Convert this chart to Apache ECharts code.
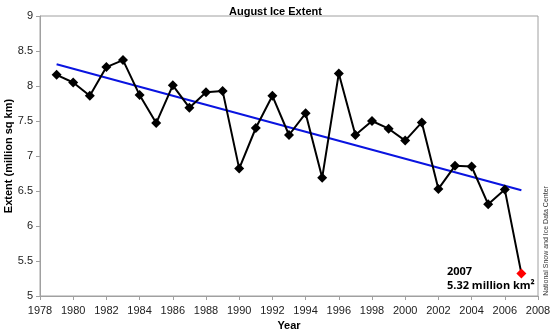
<!DOCTYPE html>
<html><head><meta charset="utf-8">
<script src="https://cdn.jsdelivr.net/npm/echarts@6/dist/echarts.min.js"></script>
<style>html,body{margin:0;padding:0;background:#fff}#c{width:550px;height:330px}</style>
</head><body><div id="c"></div>
<script>
var years = [1979,1980,1981,1982,1983,1984,1985,1986,1987,1988,1989,1990,1991,1992,1993,1994,1995,1996,1997,1998,1999,2000,2001,2002,2003,2004,2005,2006,2007];
var extent = [8.16,8.05,7.86,8.27,8.37,7.87,7.47,8.01,7.69,7.91,7.93,6.82,7.40,7.86,7.30,7.61,6.69,8.18,7.30,7.50,7.39,7.22,7.48,6.53,6.86,6.85,6.31,6.52,5.32];
var trendYears = [1979, 2007];
var trendValues = [8.31, 6.51];
var xTicks = {min:1978, max:2008, interval:2};
var yTicks = {min:5, max:9, interval:0.5};

var lineData = years.map(function(y,i){
  var d = {value:[y, extent[i]]};
  if (y === 2007) d.itemStyle = {color:'#ff0000'};
  return d;
});
var trendData = trendYears.map(function(y,i){return [y, trendValues[i]];});

var font = 'Liberation Sans, Arial, sans-serif';
var chart = echarts.init(document.getElementById('c'));
chart.setOption({
  animation:false,
  title:{text:'August Ice Extent', left:224, top:1, textStyle:{fontFamily:font, fontSize:11, fontWeight:'bold', color:'#000'}},
  grid:{left:40, right:12, top:16, bottom:34, show:true, borderColor:'#a0a0a0', borderWidth:1, containLabel:false, outerBoundsMode:'none'},
  xAxis:{type:'value', min:xTicks.min, max:xTicks.max, interval:xTicks.interval,
    name:'Year', nameLocation:'middle', nameGap:24, nameMoveOverlap:false,
    nameTextStyle:{fontFamily:font, fontSize:11, fontWeight:'bold', color:'#000'},
    axisLine:{lineStyle:{color:'#a0a0a0'}}, axisTick:{show:true, length:4, lineStyle:{color:'#a0a0a0'}},
    axisLabel:{fontFamily:font, fontSize:11, color:'#222', margin:9, formatter:function(v){return String(v);}},
    splitLine:{show:false}},
  yAxis:{type:'value', min:yTicks.min, max:yTicks.max, interval:yTicks.interval,
    name:'Extent (million sq km)', nameLocation:'middle', nameGap:26, nameMoveOverlap:false,
    nameTextStyle:{fontFamily:font, fontSize:11, fontWeight:'bold', color:'#000'},
    axisLine:{show:true, lineStyle:{color:'#a0a0a0'}}, axisTick:{show:true, length:4, lineStyle:{color:'#a0a0a0'}},
    axisLabel:{fontFamily:font, fontSize:11, color:'#222', margin:7},
    splitLine:{show:false}},
  series:[
    {type:'line', data:trendData, symbol:'none', lineStyle:{color:'#0a14e0', width:2}, z:2},
    {type:'line', data:lineData, symbol:'diamond', symbolSize:10, itemStyle:{color:'#000'},
      lineStyle:{color:'#000', width:2}, z:3}
  ],
  graphic:[
    {type:'text', left:447, top:266, style:{text:'2007', font:'bold 11px "Open Sans", sans-serif', fill:'#000'}},
    {type:'text', left:447, top:280, style:{text:'5.32 million km²', font:'bold 11px "Open Sans", sans-serif', fill:'#000'}},
    {type:'text', x:543, y:241, rotation:Math.PI/2, style:{text:'National Snow and Ice Data Center', font:'7px ' + font, fill:'#333', align:'center', verticalAlign:'top'}}
  ]
});
</script></body></html>
